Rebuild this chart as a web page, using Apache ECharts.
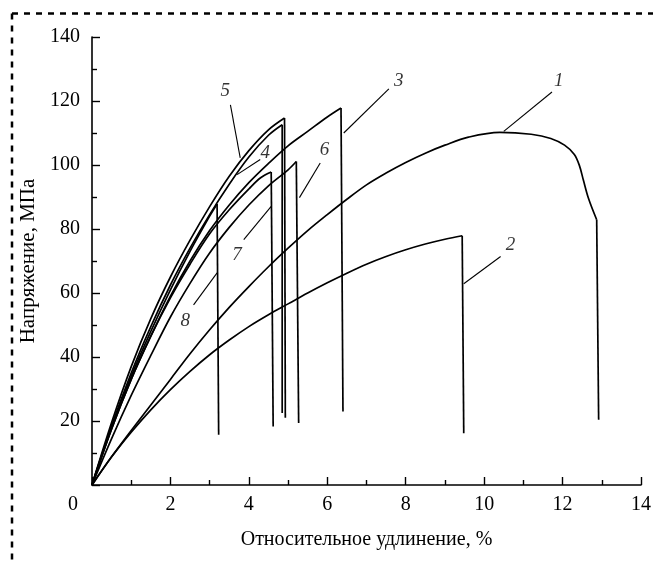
<!DOCTYPE html>
<html>
<head>
<meta charset="utf-8">
<script src="https://cdn.jsdelivr.net/npm/echarts@6/dist/echarts.min.js"></script>
<style>
  html, body { margin: 0; padding: 0; background: #fff; }
  #chart { width: 653px; height: 563px; }
</style>
</head>
<body>
<div id="chart"></div>
<script>
// кривые растяжения: [относительное удлинение %, напряжение МПа]
const curve1 = [[0,0],[0.5,8.8],[1,17],[1.5,25],[2,33],[2.5,41],[3,48.5],[3.5,55.5],[4,62],[4.5,68.2],[5,74],[5.5,79.5],[6,84.5],[6.5,89.3],[7,93.8],[7.5,97.5],[8,100.8],[8.5,103.7],[9,106.2],[9.6,108.7],[10.4,110.2],[11.2,109.6],[11.7,108.3],[12.05,106.2],[12.3,103.3],[12.43,99.8],[12.53,95.3],[12.66,89.6],[12.87,82.9]];
const curve2 = [[0,0],[0.5,8.8],[1,16.5],[1.5,23.5],[2,29.8],[2.5,35.5],[3,40.7],[3.5,45.3],[4,49.5],[4.5,53.2],[5,56.6],[5.5,60],[6,63.2],[6.5,66.2],[7,69],[7.5,71.4],[8,73.5],[8.5,75.3],[9,76.8],[9.44,77.9]];
const curve3 = [[0,0],[0.5,17.5],[1,33],[1.5,46.5],[2,59],[2.5,70],[3,79.5],[3.5,87.5],[4,94.5],[4.5,100.5],[5,106],[5.5,110.5],[6,115],[6.35,117.8]];
const curve4 = [[0,0],[0.5,18.5],[1,35],[1.5,49.5],[2,62.5],[2.5,74],[3,84.5],[3.5,94],[4,102.5],[4.5,109.3],[4.85,112.6]];
const curve5 = [[0,0],[0.5,19.5],[1,37],[1.5,52],[2,65],[2.5,76.5],[3,87],[3.5,96.5],[4,104.5],[4.5,111],[4.91,114.7]];
const curve6 = [[0,0],[0.5,14.5],[1,28],[1.5,40.5],[2,52.5],[2.5,63],[3,72.5],[3.5,80.5],[4,87.5],[4.5,93.5],[5,98.5],[5.21,101.1]];
const curve7 = [[0,0],[0.5,17.5],[1,33],[1.5,46.5],[2,58.5],[2.5,69],[3,78.5],[3.5,86],[4,92.5],[4.3,96],[4.57,97.8]];
const curve8 = [[0,0],[0.5,18],[1,34],[1.5,48],[2,61],[2.5,73],[3,84],[3.19,87.8]];
const curves = [curve1, curve2, curve3, curve4, curve5, curve6, curve7, curve8];

// нижняя точка линии разрыва образца
const breakEnd = [[12.92,20.4],[9.48,16.2],[6.4,23],[4.85,22.5],[4.93,21],[5.27,19.4],[4.62,18.3],[3.23,15.7]];

// номера кривых и выноски
const curveNames = ['1','2','3','4','5','6','7','8'];
const labelPos = [[11.9,126.1],[10.67,75.1],[7.82,126.4],[4.42,103.8],[3.4,123],[5.93,104.8],[3.7,72],[2.38,51.1]];
const leaderFrom = [[11.73,122.8],[10.42,71.4],[7.57,123.8],[4.29,101.7],[3.53,118.8],[5.82,100.6],[3.87,76.7],[2.59,56.3]];
const leaderTo = [[10.5,110.5],[9.48,62.9],[6.42,110],[3.7,97],[3.78,102.2],[5.29,89.8],[4.57,87.1],[3.19,66.3]];

const serif = 'Liberation Serif';
const chart = echarts.init(document.getElementById('chart'));

const series = [];
curves.forEach(function (c, i) {
  series.push({
    type: 'line', data: c, smooth: 0.35, symbol: 'none', silent: true,
    lineStyle: { color: '#000', width: 1.7 }
  });
  // вертикальный спад после разрыва
  series.push({
    type: 'line', data: [c[c.length - 1], breakEnd[i]], symbol: 'none', silent: true,
    lineStyle: { color: '#000', width: 1.7 }
  });
});
series.push({
  type: 'lines', coordinateSystem: 'cartesian2d', silent: true,
  data: leaderFrom.map(function (p, i) { return { coords: [p, leaderTo[i]] }; }),
  lineStyle: { color: '#000', width: 1.1, opacity: 1 }
});
series.push({
  type: 'scatter', symbolSize: 1, silent: true,
  itemStyle: { color: 'rgba(0,0,0,0)' },
  data: labelPos.map(function (p, i) { return { value: p, name: curveNames[i] }; }),
  label: {
    show: true, position: 'inside', formatter: '{b}', color: '#000',
    fontFamily: serif, fontStyle: 'italic', fontSize: 19
  }
});

chart.setOption({
  animation: false,
  backgroundColor: '#fff',
  grid: { left: 92, right: 12, top: 37, bottom: 78, outerBoundsMode: 'none' },
  xAxis: {
    type: 'value', min: 0, max: 14, interval: 2,
    name: 'Относительное удлинение, %', nameLocation: 'middle', nameGap: 45,
    nameTextStyle: { fontFamily: serif, fontSize: 20, color: '#000' },
    axisLine: { lineStyle: { color: '#000', width: 1.6 } },
    axisTick: { inside: true, length: 8, lineStyle: { color: '#000', width: 1.4 } },
    minorTick: { show: true, splitNumber: 2, length: 5, lineStyle: { color: '#000', width: 1.4 } },
    splitLine: { show: false },
    axisLabel: {
      color: '#000', fontFamily: serif, fontSize: 20, margin: 10,
      formatter: function (v) { return v === 0 ? '{z|0}' : String(v); },
      rich: { z: { fontFamily: serif, fontSize: 20, color: '#000', padding: [0, 38, 0, 0] } }
    }
  },
  yAxis: {
    type: 'value', min: 0, max: 140, interval: 20,
    name: 'Напряжение, МПа', nameLocation: 'middle', nameGap: 51,
    nameTextStyle: { fontFamily: serif, fontSize: 21, color: '#000' },
    axisLine: { lineStyle: { color: '#000', width: 1.6 } },
    axisTick: { inside: true, length: 8, lineStyle: { color: '#000', width: 1.4 } },
    minorTick: { show: true, splitNumber: 2, length: 5, lineStyle: { color: '#000', width: 1.4 } },
    splitLine: { show: false },
    axisLabel: {
      color: '#000', fontFamily: serif, fontSize: 20, margin: 12,
      formatter: function (v) { return v === 0 ? '' : String(v); }
    }
  },
  graphic: [
    { type: 'line', shape: { x1: 12, y1: 13.5, x2: 653, y2: 13.5 },
      style: { stroke: '#000', lineWidth: 2.5, lineDash: [6, 6] } },
    { type: 'line', shape: { x1: 12, y1: 13.5, x2: 12, y2: 563 },
      style: { stroke: '#000', lineWidth: 2.5, lineDash: [6, 6] } }
  ],
  series: series
});
</script>
</body>
</html>
